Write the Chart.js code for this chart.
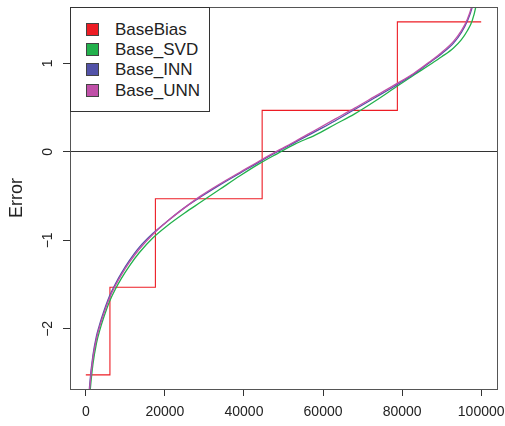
<!DOCTYPE html>
<html lang="en">
<head>
  <meta charset="UTF-8">
  <title>Error</title>
  <script src="https://cdn.jsdelivr.net/npm/chart.js@4.4.0/dist/chart.umd.min.js"></script>
  <style>
    body { margin: 0; background: #fff; }
    #wrap { position: relative; width: 505px; height: 426px; }
    #legend {
      position: absolute; left: 70px; top: 7px; width: 138px; height: 103px;
      border: 1px solid #333; background: #fff;
      font: 17px "Liberation Sans", Arial, sans-serif; color: #222;
    }
    .item { position: absolute; left: 15px; height: 20px; line-height: 20px; white-space: nowrap; }
    .sw { position: absolute; left: 0; top: 3px; width: 11px; height: 11px; border: 1px solid #444; }
    .lab { position: absolute; left: 29px; top: 0; }
  </style>
</head>
<body>
  <div id="wrap">
    <canvas id="myChart" width="505" height="426"></canvas>
    <div id="legend"></div>
  </div>
  <script>
    // rank positions shared by the three smooth curves
    const rank = [500, 1000, 1800, 2700, 3500, 4500, 6000, 7500, 9000, 11000, 13500, 17000, 21000, 25000,
      29000, 34000, 39000, 44000, 48000, 53000, 58000, 63000, 68000, 73000, 78000, 83000, 87000, 90000,
      93000, 95000, 96500, 97700, 98600, 99300, 100000];

    const baseSVD = [-3.05, -2.75, -2.40, -2.16, -2.02, -1.875, -1.69, -1.55, -1.43, -1.29, -1.14, -0.97, -0.82, -0.69,
      -0.57, -0.42, -0.27, -0.13, -0.03, 0.09, 0.19, 0.31, 0.43, 0.57, 0.72, 0.87, 0.985, 1.075,
      1.175, 1.27, 1.37, 1.48, 1.63, 1.85, 2.30];

    const baseINN = [-2.95, -2.62, -2.30, -2.08, -1.95, -1.81, -1.63, -1.49, -1.37, -1.23, -1.08, -0.92, -0.77, -0.63,
      -0.51, -0.37, -0.24, -0.11, -0.01, 0.11, 0.23, 0.35, 0.48, 0.61, 0.74, 0.88, 1.01, 1.11,
      1.23, 1.35, 1.48, 1.63, 1.83, 2.10, 2.70];

    const baseUNN = [-2.99, -2.66, -2.33, -2.11, -1.975, -1.835, -1.65, -1.51, -1.39, -1.25, -1.10, -0.93, -0.77, -0.63,
      -0.50, -0.36, -0.23, -0.10, 0.00, 0.12, 0.245, 0.37, 0.495, 0.625, 0.755, 0.89, 1.02, 1.125,
      1.25, 1.37, 1.50, 1.66, 1.86, 2.15, 2.75];

    // BaseBias step function
    const biasX = [0, 6100, 17600, 44600, 78800, 100000];
    const biasY = [-2.52, -1.53, -0.53, 0.47, 1.47, 1.47];

    const xTicks = [0, 20000, 40000, 60000, 80000, 100000];
    const yTicks = [-2, -1, 0, 1];

    const names = ['BaseBias', 'Base_SVD', 'Base_INN', 'Base_UNN'];
    const colors = ['#ED1C24', '#22B14C', '#5252A8', '#C050A8'];

    const font = { family: '"Liberation Sans", Arial, sans-serif', size: 14 };
    const pts = (xs, ys) => xs.map((x, i) => ({ x, y: ys[i] }));

    const curve = (i, ys, order) => ({
      label: names[i],
      data: pts(rank, ys),
      borderColor: colors[i],
      borderWidth: 1.3,
      pointRadius: 0,
      cubicInterpolationMode: 'monotone',
      order
    });

    const frame = {
      id: 'frame',
      afterDraw(chart) {
        const { ctx, chartArea: a } = chart;
        ctx.save();
        ctx.strokeStyle = '#555';
        ctx.lineWidth = 1;
        ctx.strokeRect(a.left + 0.5, a.top + 0.5, a.right - a.left, a.bottom - a.top);
        ctx.restore();
      }
    };

    new Chart(document.getElementById('myChart'), {
      type: 'line',
      data: {
        datasets: [
          {
            label: names[0],
            data: pts(biasX, biasY),
            borderColor: colors[0],
            borderWidth: 1.1,
            pointRadius: 0,
            stepped: true,
            order: 4
          },
          curve(1, baseSVD, 3),
          curve(2, baseINN, 2),
          curve(3, baseUNN, 1)
        ]
      },
      options: {
        responsive: false,
        animation: false,
        layout: { padding: { top: 7, right: 8, left: 0, bottom: 0 } },
        plugins: { legend: { display: false }, tooltip: { enabled: false } },
        scales: {
          x: {
            type: 'linear',
            min: -4000,
            max: 104000,
            afterBuildTicks: s => { s.ticks = xTicks.map(v => ({ value: v })); },
            afterFit: s => { s.height = 37; s.paddingLeft = 0; s.paddingRight = 0; },
            grid: { drawOnChartArea: false, tickLength: 7, tickColor: '#333' },
            border: { color: '#444' },
            ticks: { color: '#222', font, padding: 8, maxRotation: 0, autoSkip: false, callback: v => String(v) }
          },
          y: {
            type: 'linear',
            min: -2.68,
            max: 1.638,
            afterBuildTicks: s => { s.ticks = yTicks.map(v => ({ value: v })); },
            afterFit: s => { s.width = 70; s.paddingTop = 0; s.paddingBottom = 0; },
            grid: {
              color: c => (c.tick && c.tick.value === 0 ? '#333' : 'rgba(0,0,0,0)'),
              tickColor: '#333',
              tickLength: 7
            },
            border: { color: '#444' },
            ticks: {
              color: '#222', font, padding: 7, minRotation: 90, maxRotation: 90, crossAlign: 'center',
              callback: v => (v < 0 ? '\u2212' + Math.abs(v) : String(v))
            },
            title: {
              display: true, text: 'Error', color: '#222',
              font: { family: font.family, size: 18 }, padding: { top: 6, bottom: 0 }
            }
          }
        }
      },
      plugins: [frame]
    });

    // legend drawn as html over the plot corner
    const legend = document.getElementById('legend');
    names.forEach((n, i) => {
      const row = document.createElement('div');
      row.className = 'item';
      row.style.top = (11.8 + i * 20.3) + 'px';
      row.innerHTML = '<span class="sw" style="background:' + colors[i] + '"></span><span class="lab">' + n + '</span>';
      legend.appendChild(row);
    });
  </script>
</body>
</html>
